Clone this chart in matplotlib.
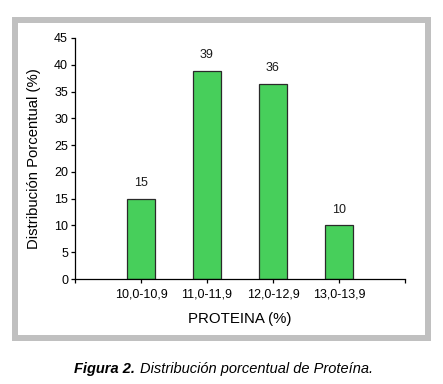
import matplotlib
matplotlib.use('Agg')
import matplotlib.pyplot as plt
from matplotlib.patches import Rectangle

## Datos ##
categorias = ["10,0-10,9", "11,0-11,9", "12,0-12,9", "13,0-13,9"]
valores = [15.0, 38.8, 36.5, 10.0]
etiquetas = ["15", "39", "36", "10"]
yticks = [0, 5, 10, 15, 20, 25, 30, 35, 40, 45]

plt.rcParams['font.family'] = ['Liberation Sans', 'DejaVu Sans']

W, H = 443, 384
fig = plt.figure(figsize=(W / 100, H / 100), dpi=100)

## Marco gris alrededor de la figura ##
fig.patches.append(Rectangle((15 / W, 46 / H), 413 / W, 318 / H,
                             transform=fig.transFigure, fill=False,
                             edgecolor='#c0c0c0', linewidth=4.3))

ax = fig.add_axes([75 / W, 105 / H, 330 / W, 241 / H])
pos = list(range(1, len(categorias) + 1))
ax.bar(pos, valores, width=0.42, color='#47cf5b', edgecolor='#2a2a2a', linewidth=0.9)

for x, v, t in zip(pos, valores, etiquetas):
    ax.annotate(t, (x, v), xytext=(0, 7), textcoords='offset points',
                ha='center', va='bottom', fontsize=9, color='#1a1a1a')

ax.set_xlim(0, 5)
ax.set_ylim(0, 45)
ax.set_xticks([0] + pos + [5])
ax.set_xticklabels([''] + categorias + [''], fontsize=9)
ax.set_yticks(yticks)
ax.set_yticklabels([str(t) for t in yticks], fontsize=9)
ax.tick_params(direction='out', length=3, width=0.9, pad=2)
ax.tick_params(axis='x', pad=4)
for s in ['top', 'right']:
    ax.spines[s].set_visible(False)
for s in ['left', 'bottom']:
    ax.spines[s].set_linewidth(0.9)

ax.set_xlabel("PROTEINA (%)", fontsize=10.8, labelpad=8)
ax.set_ylabel("Distribución Porcentual (%)", fontsize=10.7)
ax.yaxis.set_label_coords(-0.124, 0.5)
ax.yaxis.label.set_va('center')

## Pie de figura ##
fig.text(135 / W, 15 / H, "Figura 2.", ha='right', va='center', fontsize=10.5,
         fontweight='bold', fontstyle='italic')
fig.text(140 / W, 15 / H, "Distribución porcentual de Proteína.", ha='left',
         va='center', fontsize=10.5, fontstyle='italic')

fig.savefig('out.png', dpi=100)
